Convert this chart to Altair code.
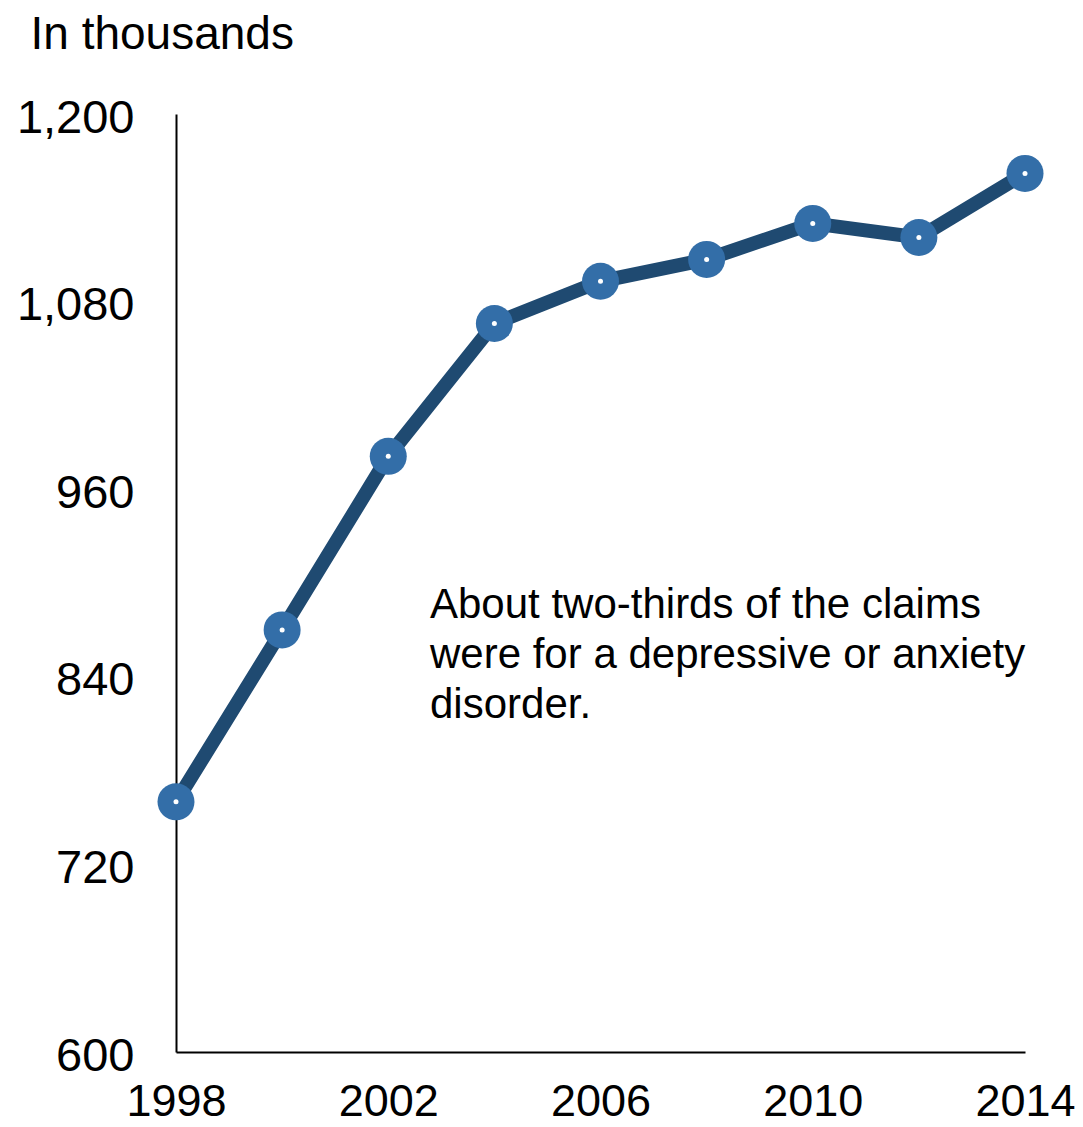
import altair as alt
import pandas as pd

years = [1998, 2000, 2002, 2004, 2006, 2008, 2010, 2012, 2014]
claims = [760, 870, 981, 1066, 1093, 1107, 1130, 1121, 1162]
y_ticks = [600, 720, 840, 960, 1080, 1200]
x_ticks = [1998, 2002, 2006, 2010, 2014]
note_lines = ["About two-thirds of the claims", "were for a depressive or anxiety", "disorder."]

df = pd.DataFrame({"year": years, "claims": claims})
FONT = "Liberation Sans"

x = alt.X("year:Q", scale=alt.Scale(domain=[1998, 2014], nice=False, zero=False),
          axis=alt.Axis(values=x_ticks, format="d", title=None, ticks=False, grid=False,
                        labelFontSize=45, labelFont=FONT, labelColor="black",
                        labelPadding=27, domainColor="black", domainWidth=2,
                        labelFlush=False, labelOverlap=False))
y = alt.Y("claims:Q", scale=alt.Scale(domain=[600, 1200], nice=False, zero=False),
          axis=alt.Axis(values=y_ticks, format=",d", ticks=False, grid=False,
                        labelFontSize=47, labelFont=FONT, labelColor="black",
                        labelPadding=42, labelOffset=4, domainColor="black", domainWidth=2,
                        labelFlush=False, labelOverlap=False,
                        title="In thousands", titleAngle=0, titleFont=FONT,
                        titleFontSize=46, titleFontWeight="normal", titleColor="black",
                        titleAlign="left", titleBaseline="alphabetic",
                        titleX=-146, titleY=-66))

base = alt.Chart(df).encode(x=x, y=y)
line = base.mark_line(color="#1f4a71", strokeWidth=14, strokeCap="butt", strokeJoin="miter")
dots = base.mark_point(filled=True, shape="circle", size=1369, color="#336ea8", opacity=1)
centers = base.mark_point(filled=True, shape="circle", size=25, color="white", opacity=1)

note = alt.Chart(pd.DataFrame({"t": [note_lines]})).mark_text(
    align="left", baseline="alphabetic", fontSize=42, font=FONT, color="black",
    lineHeight=50
).encode(text="t:N", x=alt.value(254), y=alt.value(504))

chart = (line + dots + centers + note).properties(
    width=849, height=938,
    autosize=alt.AutoSizeParams(type="none"),
    padding={"left": 168, "top": 106, "right": 50, "bottom": 75},
).configure_view(stroke=None)

chart.save("out.html", embed_options={"renderer": "svg", "actions": False})
